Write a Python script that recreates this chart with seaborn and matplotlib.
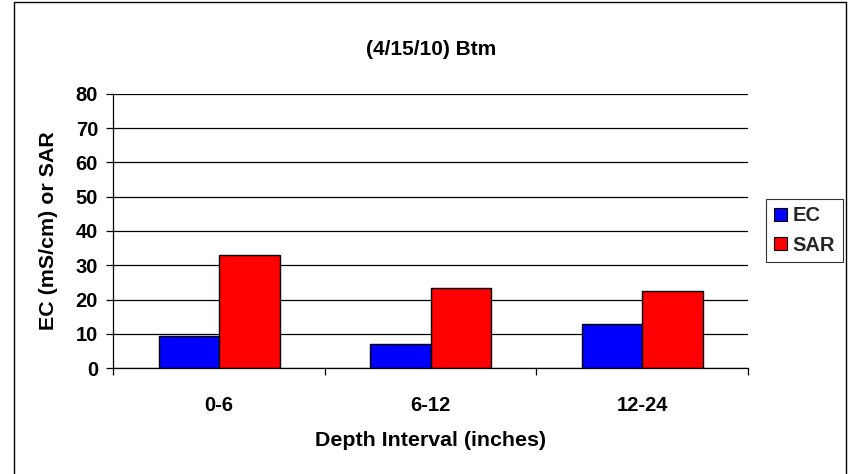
import matplotlib
matplotlib.use("Agg")
import matplotlib.pyplot as plt
import matplotlib.patches as mpatches
from matplotlib.ticker import FixedLocator
import seaborn as sns
import pandas as pd

# Soil salinity by depth interval
depths = ["0-6", "6-12", "12-24"]
ec_values = [9.3, 7.1, 12.9]
sar_values = [33.0, 23.3, 22.5]
series_names = ["EC", "SAR"]
y_ticks = [0, 10, 20, 30, 40, 50, 60, 70, 80]

df = pd.DataFrame({
    "Depth": depths * 2,
    "Value": ec_values + sar_values,
    "Series": [series_names[0]] * len(depths) + [series_names[1]] * len(depths),
})

sns.set_theme(style="white")
plt.rcParams["font.family"] = ["Liberation Sans", "DejaVu Sans"]
plt.rcParams["font.weight"] = "bold"

TICK_FS = 14.5
LABEL_FS = 15.4
TITLE_FS = 15.0

fig = plt.figure(figsize=(8.54, 4.74), dpi=100)
ax = fig.add_axes([113.3 / 854, 1 - 368 / 474, (748 - 113.3) / 854, (368 - 94) / 474])

sns.barplot(
    data=df, x="Depth", y="Value", hue="Series", order=depths,
    hue_order=series_names, palette=["#0000FF", "#FF0000"],
    width=2 / 3.5, edgecolor="black", linewidth=1.0, saturation=1,
    ax=ax, legend=True,
)

ax.set_xlim(-0.5, 2.5)
ax.set_ylim(0, 80)
ax.set_yticks(y_ticks)
ax.yaxis.grid(True, color="black", linewidth=0.9)
ax.set_axisbelow(True)

for side in ["top", "right"]:
    ax.spines[side].set_visible(False)
for side in ["left", "bottom"]:
    ax.spines[side].set_color("black")
    ax.spines[side].set_linewidth(0.9)

ax.tick_params(axis="y", which="major", direction="out", length=5, width=0.9,
               color="black", left=True, labelsize=TICK_FS, pad=6, labelcolor="black")
ax.tick_params(axis="x", which="major", length=0, labelsize=TICK_FS, pad=20,
               labelcolor="black")
ax.xaxis.set_minor_locator(FixedLocator([-0.5, 0.5, 1.5, 2.5]))
ax.tick_params(axis="x", which="minor", direction="out", length=5, width=0.9,
               color="black", bottom=True)
for lbl in ax.get_xticklabels() + ax.get_yticklabels():
    lbl.set_fontweight("bold")

ax.set_xlabel("Depth Interval (inches)", fontsize=LABEL_FS, fontweight="bold",
              labelpad=12, color="black")
ax.set_ylabel("EC (mS/cm) or SAR", fontsize=LABEL_FS, fontweight="bold",
              labelpad=13, color="black")
ax.set_title("(4/15/10) Btm", fontsize=TITLE_FS, fontweight="bold", pad=28,
             color="black")

# Legend on the right of the plot area
ax.get_legend().remove()
handles = [mpatches.Patch(facecolor=c, edgecolor="black", linewidth=0.8, label=n)
           for c, n in zip(["#0000FF", "#FF0000"], series_names)]
leg = fig.legend(handles=handles, loc="center left",
                 bbox_to_anchor=(766 / 854, 1 - 230.5 / 474),
                 frameon=True, fancybox=False, shadow=False,
                 prop={"size": TICK_FS, "weight": "bold"},
                 handlelength=0.65, handleheight=0.65, handletextpad=0.3,
                 borderpad=0.38, labelspacing=0.5, borderaxespad=0)
leg.get_frame().set_edgecolor("black")
leg.get_frame().set_linewidth(0.8)

# Chart area border
fig.patches.append(mpatches.Rectangle(
    (14 / 854, -0.05), (846 - 14) / 854, 1.05 - 1.5 / 474,
    transform=fig.transFigure, fill=False, edgecolor="black", linewidth=1.0))

fig.savefig("out.png", dpi=100)
